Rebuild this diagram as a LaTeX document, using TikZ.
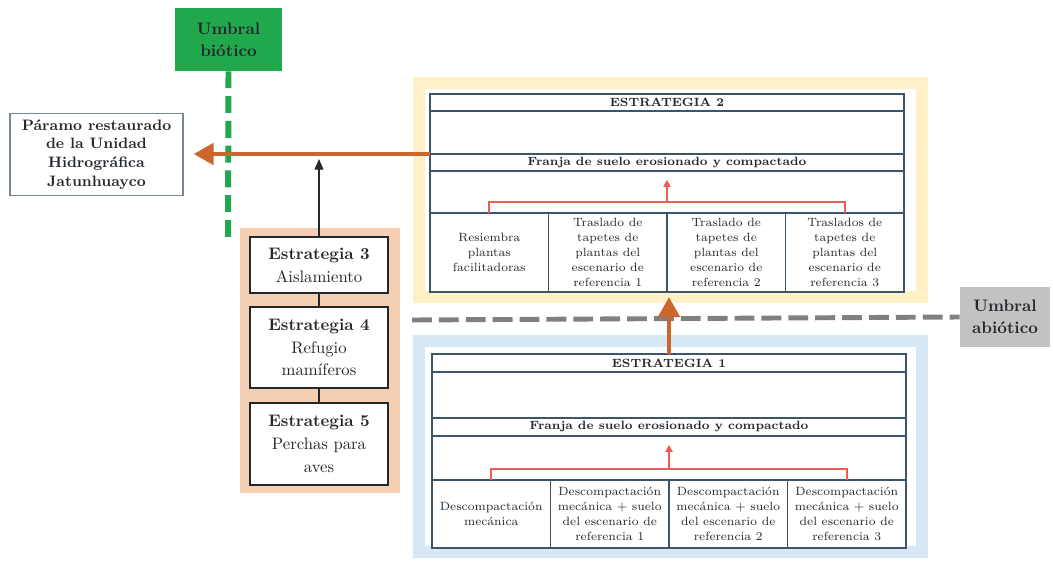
\documentclass[tikz,border=0pt]{standalone}
\usetikzlibrary{arrows.meta}
\definecolor{verde}{RGB}{34,168,76}
\definecolor{gris}{RGB}{194,194,194}
\definecolor{grislinea}{RGB}{128,128,128}
\definecolor{naranja}{RGB}{204,102,45}
\definecolor{durazno}{RGB}{244,207,180}
\definecolor{amarillo}{RGB}{255,240,200}
\definecolor{celeste}{RGB}{214,232,246}
\definecolor{tabla}{RGB}{62,84,104}
\definecolor{rojo}{RGB}{238,92,80}
\definecolor{texto}{RGB}{35,40,45}
\tikzset{
  cell/.style={draw=tabla, line width=0.9pt, fill=white, align=center, inner sep=0pt, outer sep=0pt, text=texto, font=\fontsize{6.8}{8.6}\selectfont},
  fila/.style={cell, minimum width=9.48cm, font=\bfseries\fontsize{6.8}{8}\selectfont},
  estbox/.style={draw=texto, line width=0.8pt, fill=white, minimum width=2.76cm, align=center, text=texto, font=\fontsize{9.5}{13}\selectfont},
  panel/.style={line width=6.8pt, fill=white, inner sep=0pt},
  umbral/.style={align=center, text=texto, font=\bfseries\fontsize{9.5}{12.5}\selectfont, inner sep=0pt},
  flecha/.style={naranja, line width=2.8pt, -{Triangle[length=0.4cm, width=0.42cm]}},
  rama/.style={rojo, line width=1.1pt},
}
\begin{document}
\begin{tikzpicture}[x=0.02cm, y=-0.02cm]
  \useasboundingbox (0,0) rectangle (1053,561);

  % paneles de fondo
  \node[panel, draw=amarillo, minimum width=10.06cm, minimum height=4.28cm] (p2) at (670.5,190) {};
  \node[panel, draw=celeste, minimum width=10.06cm, minimum height=4.22cm] (p1) at (670.5,446.5) {};
  \node[fill=durazno, minimum width=3.2cm, minimum height=5.3cm] (p3) at (320,360.5) {};

  % umbrales
  \node[umbral, fill=verde, minimum width=2.14cm, minimum height=1.26cm] (bio) at (228.5,39.5) {Umbral\\biótico};
  \node[umbral, fill=gris, minimum width=1.8cm, minimum height=1.2cm] (abio) at (1005,317) {Umbral\\abiótico};
  \coordinate (bioend) at (228,240);
  \coordinate (abioini) at (412,320);
  \draw[verde, line width=3.4pt, dash pattern=on 9.6pt off 4.5pt] (bio.south) -- (bioend);
  \draw[grislinea, line width=2.8pt, dash pattern=on 11.3pt off 4pt] (abioini) -- (abio.west);

  % meta
  \node[draw=tabla!70, line width=0.7pt, minimum width=3.46cm, minimum height=1.54cm, align=center, text=texto,
        font=\bfseries\fontsize{8.6}{10.6}\selectfont] (paramo) at (96.5,154.5)
        {Páramo restaurado\\de la Unidad\\Hidrográfica\\Jatunhuayco};

  % estrategia 2
  \node[fila, minimum height=0.34cm] (e2h) at (667,102.5) {ESTRATEGIA 2};
  \node[fila, minimum height=0.86cm] (e2a) at (667,132.5) {};
  \node[fila, minimum height=0.34cm] (e2f) at (667,162.5) {Franja de suelo erosionado y compactado};
  \node[fila, minimum height=0.84cm] (e2b) at (667,192) {};
  \foreach \t [count=\i] in {Resiembra\\plantas\\facilitadoras,
      Traslado de\\tapetes de\\plantas del\\escenario de\\referencia 1,
      Traslado de\\tapetes de\\plantas del\\escenario de\\referencia 2,
      Traslados de\\tapetes de\\plantas del\\escenario de\\referencia 3}
    \node[cell, minimum width=2.37cm, minimum height=1.58cm] (c2\i) at ({430+118.5*\i-59.25},252.5) {\t};
  \coordinate (j2) at (667,202);
  \draw[rama] (c21.north) |- (j2) -| (c24.north);
  \draw[rama, -{Triangle[length=4pt, width=4pt]}] (j2) -- ([yshift=-5pt]e2f.south);

  % estrategia 1
  \node[fila, minimum height=0.36cm] (e1h) at (669,363) {ESTRATEGIA 1};
  \node[fila, minimum height=0.92cm] (e1a) at (669,395) {};
  \node[fila, minimum height=0.36cm] (e1f) at (669,427) {Franja de suelo erosionado y compactado};
  \node[fila, minimum height=0.88cm] (e1b) at (669,458) {};
  \foreach \t [count=\i] in {Descompactación\\mecánica,
      Descompactación\\mecánica + suelo\\del escenario de\\referencia 1,
      Descompactación\\mecánica + suelo\\del escenario de\\referencia 2,
      Descompactación\\mecánica + suelo\\del escenario de\\referencia 3}
    \node[cell, minimum width=2.37cm, minimum height=1.36cm] (c1\i) at ({432+118.5*\i-59.25},514) {\t};
  \coordinate (j1) at (669,469);
  \draw[rama] (c11.north) |- (j1) -| (c14.north);
  \draw[rama, -{Triangle[length=4pt, width=4pt]}] (j1) -- ([yshift=-5pt]e1f.south);

  % estrategias 3 a 5
  \node[estbox, minimum height=1.12cm] (e3) at (319,265) {\textbf{Estrategia 3}\\Aislamiento};
  \node[estbox, minimum height=1.62cm] (e4) at (319,347.5) {\textbf{Estrategia 4}\\Refugio\\mamíferos};
  \node[estbox, minimum height=1.64cm] (e5) at (319,444) {\textbf{Estrategia 5}\\Perchas para\\aves};
  \draw[texto, line width=0.6pt] (e3) -- (e4);
  \draw[texto, line width=0.6pt] (e4) -- (e5);
  \coordinate (e3fin) at (319,159);
  \draw[texto, line width=0.6pt, -{Triangle[length=6pt, width=5pt]}] (e3.north) -- (e3fin);

  % flechas principales
  \draw[flecha] (e1h.north) -- (e1h.north |- 0,297);
  \draw[flecha, shorten >=0.2cm] (e2f.north west) -- (e2f.north west -| paramo.east);
\end{tikzpicture}
\end{document}
